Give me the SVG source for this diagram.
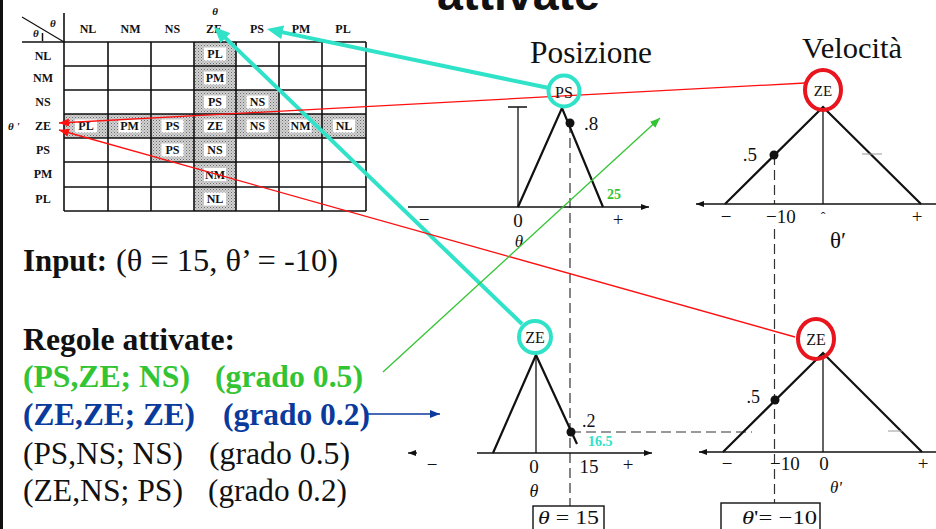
<svg xmlns="http://www.w3.org/2000/svg" width="936" height="529" viewBox="0 0 936 529">
<defs>
<style>
.tb{font-family:"Liberation Serif",serif;font-weight:bold;font-size:12px;text-anchor:middle;fill:#111}
.ti{font-family:"Liberation Serif",serif;font-weight:bold;font-style:italic;font-size:11px;fill:#111}
.grid{stroke:#111;stroke-width:1.6;fill:none}
.serif{font-family:"Liberation Serif",serif;fill:#111}
.mid{text-anchor:middle}
.ax{stroke:#111;stroke-width:1.3;fill:none}
.mf{stroke:#111;stroke-width:2.2;fill:none;stroke-linejoin:miter}
.thin{stroke:#111;stroke-width:1.3;fill:none}
.dash{stroke:#333;stroke-width:1.2;stroke-dasharray:10 5;fill:none}
.tick{stroke:#999;stroke-width:1;fill:none}
.cyc{stroke:#30e3c8;stroke-width:4;fill:none}
.rdc{stroke:#e8141e;stroke-width:4;fill:none}
.cy{stroke:#30e3c8;stroke-width:4;fill:none}
.red{stroke:#ff1010;stroke-width:1.3;fill:none}
.grn{stroke:#33c433;stroke-width:1.3;fill:none}
.blu{stroke:#0a3a9c;stroke-width:1.3;fill:none}
.big{font-family:"Liberation Serif",serif;font-size:31px}
.bold{font-weight:bold}
</style>
<pattern id="stip" width="3" height="3" patternUnits="userSpaceOnUse">
<rect width="3" height="3" fill="#d2d2d2"/>
<rect width="1" height="1" fill="#6a6a6a"/>
<rect x="1.5" y="1.5" width="1" height="1" fill="#8a8a8a"/>
</pattern>
<marker id="mCy" markerUnits="userSpaceOnUse" markerWidth="18" markerHeight="14" refX="6" refY="7" orient="auto"><path d="M0,0 L16,7 L0,14 z" fill="#30e3c8"/></marker>
<marker id="mRd" markerUnits="userSpaceOnUse" markerWidth="11" markerHeight="8" refX="10" refY="4" orient="auto"><path d="M0,0 L10,4 L0,8 z" fill="#ff1010"/></marker>
<marker id="mGr" markerUnits="userSpaceOnUse" markerWidth="11" markerHeight="8" refX="10" refY="4" orient="auto"><path d="M0,0 L10,4 L0,8 z" fill="#33c433"/></marker>
<marker id="mBl" markerUnits="userSpaceOnUse" markerWidth="11" markerHeight="8" refX="10" refY="4" orient="auto"><path d="M0,0 L10,4 L0,8 z" fill="#0a3a9c"/></marker>
<marker id="mAx" markerUnits="userSpaceOnUse" markerWidth="9" markerHeight="6" refX="8" refY="3" orient="auto"><path d="M0,0 L8,3 L0,6 z" fill="#111"/></marker>
</defs>
<rect width="936" height="529" fill="#fff"/>
<rect x="0" y="0" width="3" height="529" fill="#111"/>

<g id="title">
<text x="437" y="10" font-family="Liberation Sans,sans-serif" font-weight="bold" font-size="46" textLength="163" lengthAdjust="spacingAndGlyphs" fill="#111">attivate</text>
</g>

<g id="rule-table">
<rect x="194" y="42" width="42" height="169" fill="url(#stip)"/>
<rect x="64" y="114" width="302" height="24" fill="url(#stip)"/>
<rect x="236" y="90" width="43" height="24" fill="url(#stip)"/>
<rect x="151" y="138" width="43" height="24" fill="url(#stip)"/>
<g fill="#fff">
<rect x="204" y="47.5" width="22" height="13"/>
<rect x="204" y="71.5" width="22" height="13"/>
<rect x="204" y="95.5" width="22" height="13"/>
<rect x="204" y="119.5" width="22" height="13"/>
<rect x="204" y="143.5" width="22" height="13"/>
<rect x="204" y="168" width="22" height="13"/>
<rect x="204" y="192.5" width="22" height="13"/>
<rect x="246.5" y="95.5" width="22" height="13"/>
<rect x="161.5" y="143.5" width="22" height="13"/>
<rect x="75" y="119.5" width="22" height="13"/>
<rect x="118.5" y="119.5" width="22" height="13"/>
<rect x="161.5" y="119.5" width="22" height="13"/>
<rect x="246.5" y="119.5" width="22" height="13"/>
<rect x="289.5" y="119.5" width="22" height="13"/>
<rect x="333" y="119.5" width="22" height="13"/>
</g>
<g class="grid">
<path d="M64,13 V211 M108,42 V211 M151,42 V211 M194,42 V211 M236,42 V211 M279,42 V211 M322,42 V211 M366,42 V211"/>
<path d="M22,42 H366 M64,66 H366 M64,90 H366 M64,114 H366 M64,138 H366 M64,162 H366 M64,187 H366 M64,211 H366"/>
<path d="M22,17 L64,42" stroke-width="1.2"/>
<path d="M42.5,33 V41" stroke-width="1.5"/>
</g>
<text class="ti" x="215" y="15" text-anchor="middle">θ</text>
<text class="ti" x="50" y="27">θ</text>
<text class="ti" x="33" y="37">θ</text>
<text class="ti" x="8" y="130" font-size="12">θ '</text>
<g class="tb">
<text x="88" y="33">NL</text><text x="130.5" y="33">NM</text><text x="172.5" y="33">NS</text><text x="214" y="33">ZE</text><text x="257" y="33">PS</text><text x="301" y="33">PM</text><text x="343" y="33">PL</text>
<text x="43" y="60">NL</text><text x="43" y="82">NM</text><text x="43" y="106">NS</text><text x="43" y="130">ZE</text><text x="43" y="154">PS</text><text x="43" y="178">PM</text><text x="43" y="203">PL</text>
<text x="215" y="58">PL</text><text x="215" y="82">PM</text><text x="215" y="106">PS</text><text x="215" y="130">ZE</text><text x="215" y="154">NS</text><text x="215" y="178.5">NM</text><text x="215" y="203">NL</text>
<text x="257.5" y="106">NS</text><text x="172.5" y="154">PS</text>
<text x="86" y="130">PL</text><text x="129.5" y="130">PM</text><text x="172.5" y="130">PS</text><text x="257.5" y="130">NS</text><text x="300.5" y="130">NM</text><text x="344" y="130">NL</text>
</g>
</g>

<g id="input-text">
<text class="big bold" x="23" y="271" textLength="84" lengthAdjust="spacingAndGlyphs" fill="#111">Input:</text>
<text class="big" x="116" y="271" textLength="222" lengthAdjust="spacingAndGlyphs" fill="#111">(θ = 15, θ’ = -10)</text>
</g>
<g id="rules-text">
<text class="big bold" x="23" y="350" textLength="212" lengthAdjust="spacingAndGlyphs" fill="#111">Regole attivate:</text>
<text class="big bold" x="23" y="387" textLength="167" lengthAdjust="spacingAndGlyphs" fill="#33c433">(PS,ZE; NS)</text>
<text class="big bold" x="215" y="387" textLength="148" lengthAdjust="spacingAndGlyphs" fill="#33c433">(grado 0.5)</text>
<text class="big bold" x="23" y="425" textLength="172" lengthAdjust="spacingAndGlyphs" fill="#0a3a9c">(ZE,ZE; ZE)</text>
<text class="big bold" x="223" y="425" textLength="147" lengthAdjust="spacingAndGlyphs" fill="#0a3a9c">(grado 0.2)</text>
<text class="big" x="23" y="464" textLength="160" lengthAdjust="spacingAndGlyphs" fill="#111">(PS,NS; NS)</text>
<text class="big" x="209" y="464" textLength="141" lengthAdjust="spacingAndGlyphs" fill="#111">(grado 0.5)</text>
<text class="big" x="23" y="501" textLength="160" lengthAdjust="spacingAndGlyphs" fill="#111">(ZE,NS; PS)</text>
<text class="big" x="208" y="501" textLength="139" lengthAdjust="spacingAndGlyphs" fill="#111">(grado 0.2)</text>
</g>

<g id="headings">
<text class="serif" x="530" y="63" font-size="31" textLength="122" lengthAdjust="spacingAndGlyphs">Posizione</text>
<text class="serif" x="802" y="58" font-size="30" textLength="100" lengthAdjust="spacingAndGlyphs">Velocità</text>
</g>

<g id="dashed-guides">
<path class="dash" d="M570,123 V506"/>
<path class="dash" d="M774.5,155 V204 M774.5,229 V503"/>
<path class="dash" d="M571,432 H752" stroke-dasharray="14 8"/>
</g>

<g id="plot-pos-ps">
<path class="ax" d="M408,207 H649" marker-end="url(#mAx)"/>
<path class="thin" d="M518,207 V107 M508,107 H527"/>
<path class="mf" d="M518,207 L562,108 L603,207"/>
<circle cx="570" cy="123" r="4.5" fill="#111"/>
<text class="serif" x="584" y="130" font-size="19">.8</text>
<text class="serif mid" x="424" y="226" font-size="19">−</text>
<text class="serif mid" x="518" y="227" font-size="19">0</text>
<text class="serif mid" x="618" y="226" font-size="19">+</text>
<text class="serif mid" x="519" y="247" font-size="17" font-style="italic">θ</text>
<text x="607" y="199" font-family="Liberation Serif,serif" font-weight="bold" font-size="14" fill="#33c433">25</text>
</g>

<g id="plot-vel-ze-top">
<path class="ax" d="M936,204 H696" marker-end="url(#mAx)"/>
<path class="thin" d="M823,107 V204"/>
<path class="mf" d="M725,204 L823,107 L921,204"/>
<path class="tick" d="M862,154 H882"/>
<circle cx="774" cy="155" r="4.5" fill="#111"/>
<text class="serif" x="757" y="161" font-size="19" text-anchor="end">.5</text>
<text class="serif mid" x="726" y="223" font-size="19">−</text>
<text class="serif" x="766" y="223" font-size="19">−10</text>
<text class="serif mid" x="823" y="222" font-size="14">ˆ</text>
<text class="serif mid" x="917" y="223" font-size="19">+</text>
<text class="serif mid" x="838" y="248" font-size="23">θ′</text>
</g>

<g id="plot-pos-ze-bottom">
<path class="ax" d="M417,453 H408" marker-end="url(#mAx)"/>
<path class="ax" d="M477,453 H652" marker-end="url(#mAx)"/>
<path class="thin" d="M536,355 V453"/>
<path class="mf" d="M493,453 L536,355 L577,444"/>
<circle cx="571" cy="432" r="4.5" fill="#111"/>
<text class="serif" x="582" y="427" font-size="18">.2</text>
<text x="588" y="446" font-family="Liberation Serif,serif" font-weight="bold" font-size="14" fill="#30e3c8">16.5</text>
<text class="serif mid" x="432" y="471" font-size="19">−</text>
<text class="serif mid" x="534" y="473" font-size="19">0</text>
<text class="serif mid" x="589" y="473" font-size="19">15</text>
<text class="serif mid" x="628" y="471" font-size="19">+</text>
<text class="serif mid" x="534" y="497" font-size="18" font-style="italic">θ</text>
<rect x="533" y="506" width="71" height="30" fill="none" stroke="#111" stroke-width="1.4"/>
<text class="serif" x="538" y="524" font-size="19" textLength="61" lengthAdjust="spacingAndGlyphs"><tspan font-style="italic">θ</tspan> = 15</text>
</g>

<g id="plot-vel-ze-bottom">
<path class="ax" d="M936,452 H699" marker-end="url(#mAx)"/>
<path class="thin" d="M823,353 V452"/>
<path class="mf" d="M723,452 L823,353 L922,452"/>
<path class="tick" d="M888,431 H902"/>
<circle cx="775" cy="400" r="4.5" fill="#111"/>
<text class="serif" x="760" y="403" font-size="18" text-anchor="end">.5</text>
<text class="serif mid" x="727" y="470" font-size="19">−</text>
<text class="serif" x="770" y="470" font-size="19">−10</text>
<text class="serif mid" x="824" y="470" font-size="19">0</text>
<text class="serif mid" x="923" y="470" font-size="19">+</text>
<text class="serif mid" x="836" y="493" font-size="17" font-style="italic">θ'</text>
<rect x="721" y="503" width="99" height="33" fill="none" stroke="#111" stroke-width="1.4"/>
<text class="serif" x="742" y="524" font-size="19" textLength="75" lengthAdjust="spacingAndGlyphs"><tspan font-style="italic">θ</tspan>'= −10</text>
</g>

<g id="connectors">
<path class="cy" d="M549,88 L276.8,31.1" marker-end="url(#mCy)"/>
<path class="cy" d="M522,324 L221.2,33.9" marker-end="url(#mCy)"/>
<path class="red" d="M805,83 L59,123" marker-end="url(#mRd)"/>
<path class="red" d="M795,337 L59,130" marker-end="url(#mRd)"/>
<path class="grn" d="M383,372 L660,118" marker-end="url(#mGr)"/>
<path class="blu" d="M368,414 H440" marker-end="url(#mBl)"/>
</g>

<g id="circle-ps-pos">
<circle class="cyc" cx="564" cy="91" r="15.5"/>
<text class="serif mid" x="564" y="98" font-size="16">PS</text>
</g>
<g id="circle-ze-pos">
<circle class="cyc" cx="535" cy="337" r="16"/>
<text class="serif mid" x="535" y="343" font-size="16">ZE</text>
</g>
<g id="circle-ze-vel-top">
<ellipse class="rdc" cx="823" cy="90" rx="18" ry="20"/>
<text class="serif mid" x="823" y="96" font-size="15">ZE</text>
</g>
<g id="circle-ze-vel-bottom">
<ellipse class="rdc" cx="816" cy="339" rx="18" ry="20"/>
<text class="serif mid" x="816" y="345" font-size="16">ZE</text>
</g>
</svg>
